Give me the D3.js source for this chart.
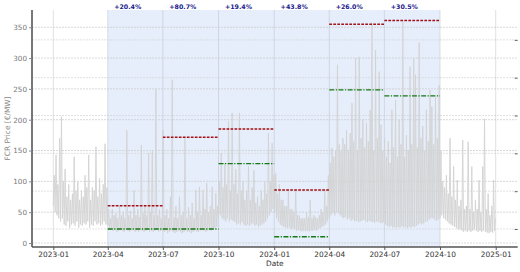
<!DOCTYPE html>
<html>
<head>
<meta charset="utf-8">
<script src="https://cdn.jsdelivr.net/npm/d3@7"></script>
<style>
    body { margin: 0; background: #fff; }
    text { font-family: "DejaVu Sans", sans-serif; }
</style>
</head>
<body>
<div id="chart"></div>
<script>
// FCR price, one low/high pair every 3 days starting 2023-01-01
var priceStart = Date.UTC(2023, 0, 1);
var priceStepDays = 3;
var priceHigh = [
    // 2023 Q1
    110, 143, 95, 170, 205, 100, 120, 75, 95, 70, 80, 140, 85, 100, 70, 85, 75, 110, 90, 143,
    70, 90, 85, 156, 75, 105, 80, 95, 161, 90,
    // 2023 Q2
    55, 40, 55, 45, 48, 40, 60, 45, 50, 40, 183, 45, 52, 40, 86, 45, 55, 42, 159, 48,
    60, 45, 146, 50, 149, 45, 250, 45, 55, 40,
    // 2023 Q3
    183, 45, 55, 40, 75, 265, 42, 60, 40, 75, 45, 50, 170, 40, 58, 45, 65, 40, 86, 50,
    91, 45, 86, 55, 97, 50, 60, 91, 55, 81, 60,
    // 2023 Q4
    100, 146, 90, 130, 95, 197, 85, 211, 95, 120, 80, 211, 85, 100, 70, 85, 124, 70, 90, 118,
    65, 75, 60, 85, 70, 100, 80, 178, 100, 162, 110,
    // 2024 Q1
    113, 80, 95, 70, 70, 60, 60, 86, 55, 55, 50, 86, 45, 45, 40, 40, 40, 50, 42, 70,
    40, 45, 42, 40, 45, 55, 50, 86, 60, 110,
    // 2024 Q2
    130, 154, 140, 150, 289, 160, 150, 170, 160, 183, 150, 178, 227, 165, 300, 150, 302, 170, 200, 155,
    195, 165, 216, 357, 150, 313, 170, 278, 192, 150, 170,
    // 2024 Q3
    140, 165, 130, 216, 155, 232, 140, 200, 160, 359, 140, 175, 150, 286, 160, 300, 273, 155, 325, 170,
    190, 150, 216, 165, 248, 221, 160, 237, 170, 256, 150,
    // 2024 Q4
    100, 90, 110, 80, 170, 75, 124, 70, 102, 60, 70, 167, 55, 60, 164, 55, 124, 50, 70, 55,
    102, 50, 124, 201, 55, 80, 45, 60, 102, 40
];
var priceLow = [
    // 2023 Q1
    60, 50, 45, 40, 35, 40, 30, 28, 35, 25, 30, 32, 28, 35, 25, 30, 28, 32, 30, 35,
    25, 30, 28, 35, 30, 32, 28, 30, 35, 30,
    // 2023 Q2
    28, 22, 24, 20, 22, 18, 20, 22, 20, 18, 22, 20, 18, 20, 22, 18, 20, 18, 22, 20,
    18, 20, 22, 18, 20, 18, 20, 22, 18, 20,
    // 2023 Q3
    20, 18, 20, 16, 18, 20, 18, 16, 18, 20, 18, 16, 18, 20, 18, 18, 16, 18, 20, 18,
    18, 20, 22, 20, 18, 20, 22, 20, 22, 24, 26,
    // 2023 Q4
    40, 45, 40, 38, 35, 40, 35, 38, 36, 34, 30, 32, 30, 34, 30, 28, 30, 28, 30, 32,
    28, 30, 26, 28, 30, 32, 35, 40, 45, 50, 55,
    // 2024 Q1
    50, 40, 35, 30, 28, 26, 25, 24, 25, 22, 24, 22, 20, 21, 20, 19, 20, 19, 20, 19,
    20, 20, 21, 20, 22, 24, 26, 28, 30, 35,
    // 2024 Q2
    40, 45, 50, 45, 50, 48, 45, 42, 40, 42, 38, 40, 36, 38, 35, 36, 34, 35, 36, 38,
    35, 34, 36, 35, 34, 33, 35, 34, 33, 32, 34,
    // 2024 Q3
    30, 28, 26, 28, 25, 26, 24, 26, 25, 27, 25, 26, 24, 26, 25, 27, 26, 28, 30, 32,
    30, 32, 34, 35, 38, 40, 40, 38, 36, 38, 40,
    // 2024 Q4
    45, 40, 38, 35, 32, 30, 28, 26, 24, 22, 22, 20, 18, 20, 18, 20, 18, 20, 22, 20,
    18, 20, 18, 20, 18, 17, 16, 18, 17, 20
];

// Quarterly reference levels
var quarterStarts = ["2023-04-01", "2023-07-01", "2023-10-01", "2024-01-01", "2024-04-01", "2024-07-01"];
var quarterEnds = ["2023-07-01", "2023-10-01", "2024-01-01", "2024-04-01", "2024-07-01", "2024-10-01"];
var upperLevel = [60.5, 171.6, 185, 86, 355, 361];
var lowerLevel = [22.7, 22.7, 128.7, 10.2, 248.4, 238.6];
var changeLabels = ["+20.4%", "+80.7%", "+19.4%", "+43.8%", "+26.0%", "+30.5%"];

// Axis ticks
var xTicks = ["2023-01-01", "2023-04-01", "2023-07-01", "2023-10-01", "2024-01-01",
    "2024-04-01", "2024-07-01", "2024-10-01", "2025-01-01"];
var yTicks = [0, 50, 100, 150, 200, 250, 300, 350];
var rightTicks = [10, 20, 30, 40, 50, 60];

var svgWidth = 520;
var svgHeight = 272;

var plot = { left: 32, right: 517.7, top: 10, bottom: 247 };

var parseDay = d3.utcParse("%Y-%m-%d");
var fmtTick = d3.utcFormat("%Y-%m");

var svg = d3.select("#chart")
    .append("svg")
    .attr("width", svgWidth)
    .attr("height", svgHeight);

var xScale = d3.scaleUtc()
    .domain([new Date(Date.UTC(2022, 10, 26, 19)), new Date(Date.UTC(2025, 1, 6, 8))])
    .range([plot.left, plot.right]);

var yScale = d3.scaleLinear()
    .domain([-6.5, 378])
    .range([plot.bottom, plot.top]);

// twin axis on the right, labels fall outside the picture
var yScale2 = d3.scaleLinear()
    .domain([5.24, 67.9])
    .range([plot.bottom, plot.top]);

// Shaded comparison window
svg.append("rect")
    .attr("x", xScale(parseDay(quarterStarts[0])))
    .attr("y", plot.top)
    .attr("width", xScale(parseDay(quarterEnds[quarterEnds.length - 1])) - xScale(parseDay(quarterStarts[0])))
    .attr("height", plot.bottom - plot.top)
    .attr("fill", "#e6eefb");

// Grid lines
var grid = svg.append("g");

grid.selectAll(".ygrid")
    .data(yTicks)
    .enter()
    .append("line")
    .attr("x1", plot.left)
    .attr("x2", plot.right)
    .attr("y1", d => yScale(d))
    .attr("y2", d => yScale(d))
    .attr("stroke", "#c8c8c8")
    .attr("stroke-width", 0.7)
    .attr("stroke-dasharray", "2,1");

grid.selectAll(".y2grid")
    .data(rightTicks)
    .enter()
    .append("line")
    .attr("x1", plot.left)
    .attr("x2", plot.right)
    .attr("y1", d => yScale2(d))
    .attr("y2", d => yScale2(d))
    .attr("stroke", "#d4d4d4")
    .attr("stroke-width", 0.7)
    .attr("stroke-dasharray", "2,1");

grid.selectAll(".xgrid")
    .data(xTicks)
    .enter()
    .append("line")
    .attr("x1", d => xScale(parseDay(d)))
    .attr("x2", d => xScale(parseDay(d)))
    .attr("y1", plot.top)
    .attr("y2", plot.bottom)
    .attr("stroke", "#b8bec8")
    .attr("stroke-opacity", 0.6)
    .attr("stroke-width", 0.8);

// Price series: trough then peak inside each 3-day sample
var pricePoints = [];
priceLow.forEach(function (lo, i) {
    var t = priceStart + i * priceStepDays * 864e5;
    pricePoints.push({ date: new Date(t), value: lo });
    pricePoints.push({ date: new Date(t + 1.5 * 864e5), value: priceHigh[i] });
});

var line = d3.line()
    .x(d => xScale(d.date))
    .y(d => yScale(d.value));

svg.append("path")
    .datum(pricePoints)
    .attr("d", line)
    .attr("fill", "none")
    .attr("stroke", "#d2d2d2")
    .attr("stroke-width", 0.9);

// Quarter levels
var quarters = quarterStarts.map((s, i) => ({
    start: parseDay(s),
    end: parseDay(quarterEnds[i]),
    upper: upperLevel[i],
    lower: lowerLevel[i],
    label: changeLabels[i]
}));

svg.selectAll(".upper")
    .data(quarters)
    .enter()
    .append("line")
    .attr("x1", d => xScale(d.start))
    .attr("x2", d => xScale(d.end))
    .attr("y1", d => yScale(d.upper))
    .attr("y2", d => yScale(d.upper))
    .attr("stroke", "#a50f15")
    .attr("stroke-width", 1.4)
    .attr("stroke-dasharray", "2.7,1.3");

svg.selectAll(".lower")
    .data(quarters)
    .enter()
    .append("line")
    .attr("x1", d => xScale(d.start))
    .attr("x2", d => xScale(d.end))
    .attr("y1", d => yScale(d.lower))
    .attr("y2", d => yScale(d.lower))
    .attr("stroke", "#137a13")
    .attr("stroke-width", 1.4)
    .attr("stroke-dasharray", "5,1.5,1.2,1.5");

svg.selectAll(".change")
    .data(quarters)
    .enter()
    .append("text")
    .attr("x", d => xScale(d3.utcDay.offset(d.start, 33)))
    .attr("y", 9)
    .attr("text-anchor", "middle")
    .attr("font-size", 6.3)
    .attr("font-weight", "bold")
    .attr("fill", "#1a1a8c")
    .text(d => d.label);

// Axes
var bottomAxis = d3.axisBottom(xScale)
    .tickValues(xTicks.map(parseDay))
    .tickFormat(fmtTick)
    .tickSize(3)
    .tickPadding(2);

var xAxis = svg.append("g")
    .attr("transform", `translate(0, ${plot.bottom})`)
    .call(bottomAxis);
xAxis.select(".domain").attr("stroke", "#555").attr("stroke-width", 1.6)
    .attr("d", `M${plot.left},0H${plot.right}`);
xAxis.selectAll(".tick line").attr("stroke", "#555");
xAxis.selectAll(".tick text")
    .attr("font-size", 7.4)
    .attr("fill", "#333")
    .style("font-family", "DejaVu Sans");

var leftAxis = d3.axisLeft(yScale)
    .tickValues(yTicks)
    .tickSize(3)
    .tickPadding(2);

var yAxis = svg.append("g")
    .attr("transform", `translate(${plot.left}, 0)`)
    .call(leftAxis);
yAxis.select(".domain").attr("stroke", "#555").attr("stroke-width", 1.6)
    .attr("d", `M0,${plot.top}V${plot.bottom}`);
yAxis.selectAll(".tick line").attr("stroke", "#888");
yAxis.selectAll(".tick text")
    .attr("font-size", 7.2)
    .attr("fill", "#777")
    .style("font-family", "DejaVu Sans");

var rightAxis = d3.axisLeft(yScale2)
    .tickValues(rightTicks)
    .tickFormat("")
    .tickSize(3);

var yAxis2 = svg.append("g")
    .attr("transform", `translate(${plot.right}, 0)`)
    .call(rightAxis);
yAxis2.select(".domain").remove();
yAxis2.selectAll(".tick line").attr("stroke", "#666");

// Axis labels
svg.append("text")
    .attr("x", (plot.left + plot.right) / 2)
    .attr("y", 266)
    .attr("text-anchor", "middle")
    .attr("font-size", 7.4)
    .attr("fill", "#333")
    .text("Date");

svg.append("text")
    .attr("transform", `translate(10, ${(plot.top + plot.bottom) / 2}) rotate(-90)`)
    .attr("text-anchor", "middle")
    .attr("font-size", 7.4)
    .attr("fill", "#888")
    .text("FCR Price [€/MW]");
</script>
</body>
</html>
